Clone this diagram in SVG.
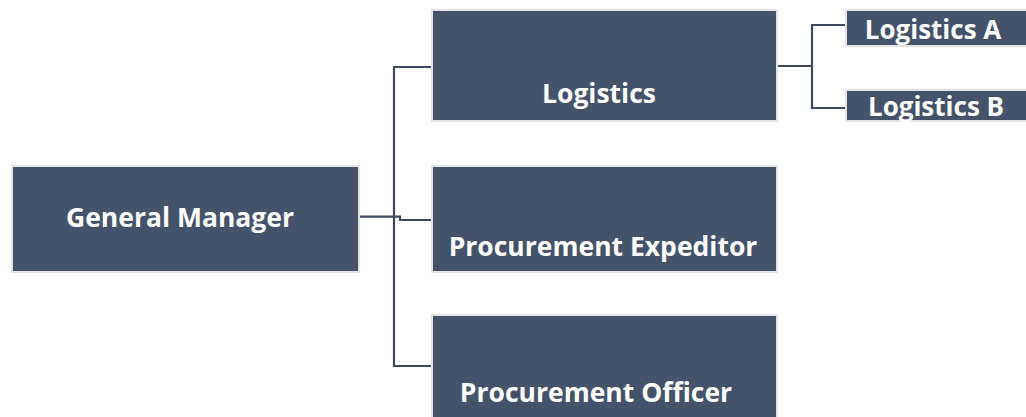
<svg xmlns="http://www.w3.org/2000/svg" width="1026" height="417" viewBox="0 0 1026 417">
<style>
.box{fill:#44536a;stroke:#e4e4e4;stroke-width:2}
.lbl{font-family:"Open Sans","Liberation Sans",sans-serif;font-weight:bold;font-size:26.5px;fill:#ffffff;text-anchor:middle}
.sm{font-size:26px}
.conn{fill:none;stroke:#3b4a5e;stroke-width:2.2}
</style>
<rect width="1026" height="417" fill="#ffffff"/>
<g id="connectors">
<path class="conn" d="M359,216.7 H400 V220 H431"/>
<path class="conn" d="M431,67 H394 V366 H431"/>
<path class="conn" d="M777,66 H812"/>
<path class="conn" d="M845,25 H812 V108 H845"/>
</g>
<g id="gm"><rect class="box" x="12" y="166" width="347" height="106"/><text class="lbl" x="180" y="227">General Manager</text></g>
<g id="logistics"><rect class="box" x="432" y="10" width="345" height="111"/><text class="lbl" x="599" y="103">Logistics</text></g>
<g id="expeditor"><rect class="box" x="432" y="166" width="345" height="106"/><text class="lbl" x="603" y="256">Procurement Expeditor</text></g>
<g id="officer"><rect class="box" x="432" y="315" width="345" height="104"/><text class="lbl" x="596" y="402">Procurement Officer</text></g>
<g id="logA"><rect class="box" x="846" y="10" width="182" height="36"/><text class="lbl sm" x="933" y="39">Logistics A</text></g>
<g id="logB"><rect class="box" x="846" y="90" width="182" height="31"/><text class="lbl sm" x="936" y="116">Logistics B</text></g>
</svg>
